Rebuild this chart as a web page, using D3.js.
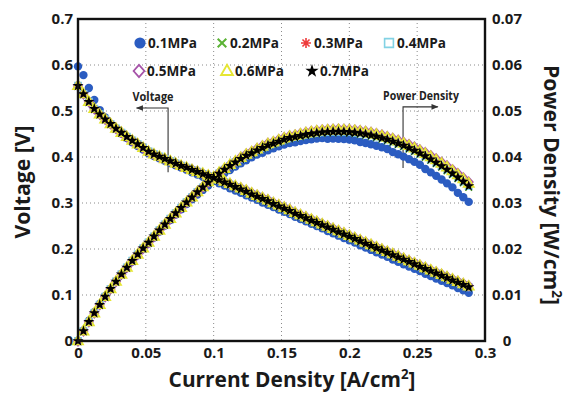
<!DOCTYPE html>
<html>
<head>
<meta charset="utf-8">
<script src="https://cdn.jsdelivr.net/npm/d3@7"></script>
<style>
  html, body { margin: 0; padding: 0; background: #fff; }
  svg { display: block; font-family: "Open Sans", "Noto Sans", sans-serif; font-weight: 700; }
</style>
</head>
<body>
<svg id="chart" width="567" height="394"></svg>
<script>
// current density samples [A/cm2]
const current = [
  0, 0.004, 0.008, 0.012, 0.016, 0.02, 0.024, 0.028, 0.032, 0.036,
  0.04, 0.044, 0.048, 0.052, 0.056, 0.06, 0.064, 0.068, 0.072, 0.076,
  0.08, 0.084, 0.088, 0.092, 0.096, 0.1, 0.104, 0.108, 0.112, 0.116,
  0.12, 0.124, 0.128, 0.132, 0.136, 0.14, 0.144, 0.148, 0.152, 0.156,
  0.16, 0.164, 0.168, 0.172, 0.176, 0.18, 0.184, 0.188, 0.192, 0.196,
  0.2, 0.204, 0.208, 0.212, 0.216, 0.22, 0.224, 0.228, 0.232, 0.236,
  0.24, 0.244, 0.248, 0.252, 0.256, 0.26, 0.264, 0.268, 0.272, 0.276,
  0.28, 0.284, 0.288
];

// cell voltage [V] for each back pressure
const v01 = [
  0.597, 0.578, 0.550, 0.524, 0.502, 0.486, 0.472, 0.461, 0.451, 0.441,
  0.432, 0.424, 0.416, 0.408, 0.402, 0.397, 0.392, 0.387, 0.382, 0.377,
  0.372, 0.367, 0.362, 0.357, 0.352, 0.348, 0.343, 0.338, 0.332, 0.327,
  0.322, 0.317, 0.312, 0.307, 0.301, 0.296, 0.291, 0.286, 0.281, 0.276,
  0.270, 0.265, 0.260, 0.255, 0.250, 0.245, 0.239, 0.234, 0.229, 0.224,
  0.219, 0.214, 0.208, 0.203, 0.198, 0.193, 0.188, 0.183, 0.177, 0.172,
  0.167, 0.162, 0.157, 0.152, 0.146, 0.141, 0.136, 0.131, 0.126, 0.121,
  0.115, 0.110, 0.105
];
const v02 = [
  0.555, 0.537, 0.520, 0.505, 0.493, 0.482, 0.472, 0.462, 0.453, 0.444,
  0.436, 0.428, 0.420, 0.412, 0.406, 0.401, 0.396, 0.391, 0.386, 0.381,
  0.377, 0.372, 0.368, 0.363, 0.359, 0.355, 0.349, 0.344, 0.339, 0.334,
  0.329, 0.324, 0.318, 0.313, 0.308, 0.303, 0.297, 0.292, 0.287, 0.282,
  0.276, 0.271, 0.266, 0.261, 0.256, 0.251, 0.246, 0.241, 0.236, 0.231,
  0.226, 0.221, 0.216, 0.211, 0.206, 0.201, 0.196, 0.191, 0.186, 0.181,
  0.176, 0.171, 0.166, 0.161, 0.156, 0.151, 0.146, 0.141, 0.136, 0.131,
  0.126, 0.121, 0.116
];
const v03 = [
  0.555, 0.537, 0.520, 0.505, 0.493, 0.482, 0.472, 0.462, 0.453, 0.444,
  0.436, 0.428, 0.420, 0.412, 0.406, 0.401, 0.396, 0.391, 0.386, 0.381,
  0.377, 0.372, 0.368, 0.363, 0.359, 0.355, 0.351, 0.346, 0.341, 0.336,
  0.331, 0.326, 0.320, 0.315, 0.310, 0.305, 0.299, 0.294, 0.289, 0.284,
  0.278, 0.273, 0.268, 0.263, 0.258, 0.253, 0.248, 0.243, 0.238, 0.233,
  0.228, 0.223, 0.218, 0.213, 0.208, 0.203, 0.198, 0.193, 0.188, 0.183,
  0.178, 0.173, 0.168, 0.163, 0.158, 0.153, 0.148, 0.143, 0.138, 0.133,
  0.128, 0.123, 0.118
];
const v04 = [
  0.555, 0.537, 0.520, 0.505, 0.493, 0.482, 0.472, 0.462, 0.453, 0.444,
  0.436, 0.428, 0.420, 0.412, 0.406, 0.401, 0.396, 0.391, 0.386, 0.381,
  0.377, 0.372, 0.368, 0.363, 0.359, 0.355, 0.350, 0.345, 0.340, 0.335,
  0.330, 0.325, 0.319, 0.314, 0.309, 0.304, 0.298, 0.293, 0.288, 0.283,
  0.277, 0.272, 0.267, 0.262, 0.257, 0.252, 0.247, 0.242, 0.237, 0.232,
  0.227, 0.222, 0.217, 0.212, 0.207, 0.202, 0.197, 0.192, 0.187, 0.182,
  0.177, 0.172, 0.167, 0.162, 0.157, 0.152, 0.147, 0.142, 0.137, 0.132,
  0.127, 0.122, 0.117
];
const v05 = [
  0.555, 0.537, 0.520, 0.505, 0.493, 0.482, 0.472, 0.462, 0.453, 0.444,
  0.436, 0.428, 0.420, 0.412, 0.406, 0.401, 0.396, 0.391, 0.386, 0.381,
  0.377, 0.373, 0.369, 0.364, 0.360, 0.356, 0.352, 0.347, 0.342, 0.337,
  0.333, 0.328, 0.322, 0.317, 0.312, 0.307, 0.301, 0.296, 0.291, 0.286,
  0.280, 0.275, 0.270, 0.265, 0.260, 0.255, 0.250, 0.245, 0.240, 0.235,
  0.230, 0.225, 0.220, 0.215, 0.210, 0.205, 0.200, 0.195, 0.190, 0.185,
  0.180, 0.175, 0.170, 0.165, 0.160, 0.155, 0.150, 0.145, 0.140, 0.135,
  0.130, 0.125, 0.120
];
const v06 = [
  0.555, 0.537, 0.520, 0.505, 0.493, 0.482, 0.472, 0.462, 0.453, 0.444,
  0.436, 0.428, 0.420, 0.412, 0.406, 0.401, 0.396, 0.391, 0.386, 0.381,
  0.377, 0.372, 0.368, 0.364, 0.360, 0.356, 0.352, 0.347, 0.342, 0.337,
  0.332, 0.327, 0.321, 0.316, 0.311, 0.306, 0.300, 0.295, 0.290, 0.285,
  0.279, 0.274, 0.269, 0.264, 0.259, 0.254, 0.249, 0.244, 0.239, 0.234,
  0.229, 0.224, 0.219, 0.214, 0.209, 0.204, 0.199, 0.194, 0.189, 0.184,
  0.179, 0.174, 0.169, 0.164, 0.159, 0.154, 0.149, 0.144, 0.139, 0.134,
  0.129, 0.124, 0.119
];
const v07 = [
  0.555, 0.537, 0.520, 0.505, 0.493, 0.482, 0.472, 0.462, 0.453, 0.444,
  0.436, 0.428, 0.420, 0.412, 0.406, 0.401, 0.396, 0.391, 0.386, 0.381,
  0.377, 0.372, 0.368, 0.363, 0.359, 0.355, 0.350, 0.345, 0.340, 0.335,
  0.330, 0.325, 0.319, 0.314, 0.309, 0.304, 0.298, 0.293, 0.288, 0.283,
  0.277, 0.272, 0.267, 0.262, 0.257, 0.252, 0.247, 0.242, 0.237, 0.232,
  0.227, 0.222, 0.217, 0.212, 0.207, 0.202, 0.197, 0.192, 0.187, 0.182,
  0.177, 0.172, 0.167, 0.162, 0.157, 0.152, 0.147, 0.142, 0.137, 0.132,
  0.127, 0.122, 0.117
];

const pressureLabels = ["0.1MPa", "0.2MPa", "0.3MPa", "0.4MPa", "0.5MPa", "0.6MPa", "0.7MPa"];
const xTicks = [0, 0.05, 0.1, 0.15, 0.2, 0.25, 0.3];
const voltTicks = [0, 0.1, 0.2, 0.3, 0.4, 0.5, 0.6, 0.7];
const powerTicks = [0, 0.01, 0.02, 0.03, 0.04, 0.05, 0.06, 0.07];

const W = 567, H = 394;
const margin = { top: 19, right: 82, bottom: 53, left: 78 };

const styles = [
  { shape: "circle",   color: "#2b5cc1", r: 4.2, lr: 5.6, sw: 0 },
  { shape: "x",        color: "#5bb335", r: 3.3, lr: 4.3, sw: 1.7 },
  { shape: "asterisk", color: "#ee3b3b", r: 3.8, lr: 5.0, sw: 1.3 },
  { shape: "square",   color: "#82d2e4", r: 3.3, lr: 4.4, sw: 1.3 },
  { shape: "diamond",  color: "#a653a8", r: 4.2, lr: 5.4, sw: 1.5 },
  { shape: "triangle", color: "#e6e632", r: 5.4, lr: 6.2, sw: 1.6 },
  { shape: "star",     color: "#000000", r: 4.0, lr: 4.8, sw: 0 }
];
const voltSeries = [v01, v02, v03, v04, v05, v06, v07];
const series = pressureLabels.map((name, i) => ({
  name,
  style: styles[i],
  volt: current.map((c, j) => ({ i: c, v: voltSeries[i][j] })),
  power: current.map((c, j) => ({ i: c, p: c * voltSeries[i][j] }))
}));

function markerPath(shape, r) {
  const a = r * 0.7071;
  switch (shape) {
    case "circle": return d3.symbol(d3.symbolCircle, Math.PI * r * r)();
    case "x": return `M${-r},${-r}L${r},${r}M${-r},${r}L${r},${-r}`;
    case "asterisk": return `M0,${-r}L0,${r}M${-r},0L${r},0M${-a},${-a}L${a},${a}M${-a},${a}L${a},${-a}`;
    case "square": return `M${-r},${-r}H${r}V${r}H${-r}Z`;
    case "diamond": return `M0,${-r * 1.15}L${r},0L0,${r * 1.15}L${-r},0Z`;
    case "triangle": return `M0,${-r}L${r * 0.95},${r * 0.65}L${-r * 0.95},${r * 0.65}Z`;
    case "star": return d3.symbol(d3.symbolStar, r * r * 2.4)();
  }
}
function applyStyle(sel, st) {
  const filled = st.shape === "circle" || st.shape === "star";
  sel.attr("fill", filled ? st.color : "none")
     .attr("stroke", filled ? "none" : st.color)
     .attr("stroke-width", st.sw);
}

const svg = d3.select("#chart");
const x = d3.scaleLinear().domain([0, 0.3]).range([margin.left, W - margin.right]);
const yV = d3.scaleLinear().domain([0, 0.7]).range([H - margin.bottom, margin.top]);
const yP = d3.scaleLinear().domain([0, 0.07]).range([H - margin.bottom, margin.top]);

// grid
const grid = svg.append("g").attr("stroke", "#8a8a8a").attr("stroke-width", 1).attr("stroke-dasharray", "1,3");
grid.selectAll("line.gx").data(xTicks.slice(1, -1)).join("line")
  .attr("x1", d => x(d)).attr("x2", d => x(d))
  .attr("y1", margin.top).attr("y2", H - margin.bottom);
grid.selectAll("line.gy").data(voltTicks.slice(1, -1)).join("line")
  .attr("x1", margin.left).attr("x2", W - margin.right)
  .attr("y1", d => yV(d)).attr("y2", d => yV(d));

// annotation arrows
const defs = svg.append("defs");
defs.append("marker").attr("id", "arrow").attr("viewBox", "0 0 10 10")
  .attr("refX", 9).attr("refY", 5).attr("markerWidth", 8).attr("markerHeight", 7)
  .attr("markerUnits", "userSpaceOnUse").attr("orient", "auto")
  .append("path").attr("d", "M0,1L10,5L0,9Z").attr("fill", "#333");

const ann = svg.append("g").attr("fill", "none").attr("stroke", "#333").attr("stroke-width", 1.1);
ann.append("path")
  .attr("d", `M${x(0.0664)},${yV(0.367)}V${yV(0.5065)}H${x(0.0432)}`)
  .attr("marker-end", "url(#arrow)");
ann.append("path")
  .attr("d", `M${x(0.2396)},${yP(0.0376)}V${yP(0.0509)}H${x(0.2652)}`)
  .attr("marker-end", "url(#arrow)");

// data markers
const plot = svg.append("g");
series.forEach(s => {
  const g = plot.append("g");
  applyStyle(g, s.style);
  const d = markerPath(s.style.shape, s.style.r);
  g.selectAll("path.v").data(s.volt).join("path").attr("class", "v")
    .attr("d", d).attr("transform", p => `translate(${x(p.i)},${yV(p.v)})`);
  g.selectAll("path.p").data(s.power).join("path").attr("class", "p")
    .attr("d", d).attr("transform", p => `translate(${x(p.i)},${yP(p.p)})`);
});

// frame
svg.append("rect")
  .attr("x", margin.left).attr("y", margin.top)
  .attr("width", W - margin.left - margin.right).attr("height", H - margin.top - margin.bottom)
  .attr("fill", "none").attr("stroke", "#111").attr("stroke-width", 2.4);

const fmt = d => d === 0 ? "0" : String(+d.toFixed(2));

// axes
const xAxis = svg.append("g").attr("transform", `translate(0,${H - margin.bottom})`)
  .call(d3.axisBottom(x).tickValues(xTicks).tickSize(0).tickPadding(6).tickFormat(fmt));
const yAxisL = svg.append("g").attr("transform", `translate(${margin.left},0)`)
  .call(d3.axisLeft(yV).tickValues(voltTicks).tickSize(0).tickPadding(5).tickFormat(fmt));
const yAxisR = svg.append("g").attr("transform", `translate(${W - margin.right},0)`)
  .call(d3.axisRight(yP).tickValues(powerTicks).tickSize(0).tickPadding(22).tickFormat(fmt));
yAxisR.selectAll("text").attr("text-anchor", "middle");
[xAxis, yAxisL, yAxisR].forEach(a => {
  a.select(".domain").remove();
  a.selectAll("text").attr("font-size", 15).attr("fill", "#1a1a1a");
  a.attr("font-family", null);
});

// axis titles
function fitWidth(textSel, target, cx, cy, rot) {
  const w = textSel.node().getComputedTextLength();
  const k = target / w;
  textSel.attr("transform", `translate(${cx},${cy}) rotate(${rot}) scale(${k},1)`);
}
const titleX = svg.append("text").attr("text-anchor", "middle").attr("font-size", 22).attr("fill", "#1a1a1a");
titleX.append("tspan").text("Current Density [A/cm");
titleX.append("tspan").attr("font-size", 14).attr("dy", -8).text("2");
titleX.append("tspan").attr("dy", 8).text("]");
fitWidth(titleX, 247, 292, 387, 0);

const titleL = svg.append("text").attr("text-anchor", "middle").attr("font-size", 22).attr("fill", "#1a1a1a")
  .text("Voltage [V]");
fitWidth(titleL, 113, 30, 182, -90);

const titleR = svg.append("text").attr("text-anchor", "middle").attr("font-size", 22).attr("fill", "#1a1a1a");
titleR.append("tspan").text("Power Density [W/cm");
titleR.append("tspan").attr("font-size", 14).attr("dy", -8).text("2");
titleR.append("tspan").attr("dy", 8).text("]");
fitWidth(titleR, 240, 544, 185, 90);

// annotation labels
const annV = svg.append("text").attr("text-anchor", "middle").attr("font-size", 12.5).attr("fill", "#222").text("Voltage");
fitWidth(annV, 41, 153, 101, 0);
const annP = svg.append("text").attr("text-anchor", "middle").attr("font-size", 12.5).attr("fill", "#222").text("Power Density");
fitWidth(annP, 76, 421, 100, 0);

// legend
const legendPos = [
  [140, 43], [222, 43], [306, 43], [389, 43],
  [139, 71], [227, 71], [312, 71]
];
const legend = svg.append("g");
series.forEach((s, i) => {
  const [lx, ly] = legendPos[i];
  const m = legend.append("path").attr("d", markerPath(s.style.shape, s.style.lr))
    .attr("transform", `translate(${lx},${ly})`);
  applyStyle(m, Object.assign({}, s.style, { sw: s.style.sw ? s.style.sw + 0.3 : 0 }));
  const t = legend.append("text").attr("font-size", 14).attr("fill", "#1a1a1a")
    .attr("text-anchor", "start").text(s.name);
  const w = t.node().getComputedTextLength();
  t.attr("transform", `translate(${lx + 8},${ly + 5}) scale(${49 / w},1)`);
});
</script>
</body>
</html>
